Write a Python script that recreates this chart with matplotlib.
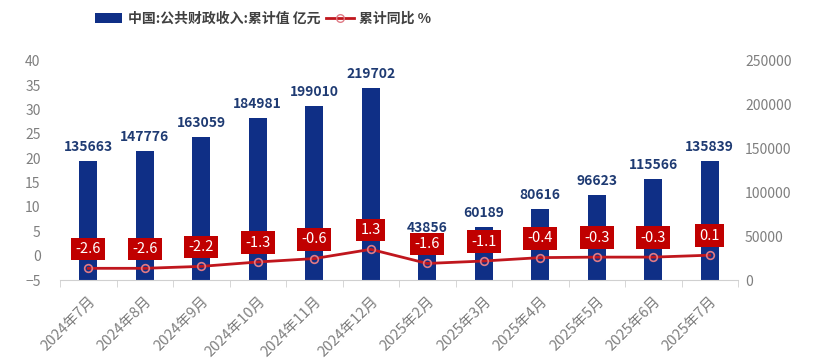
import matplotlib
matplotlib.use("Agg")
import matplotlib.pyplot as plt
from matplotlib.patches import Patch
from matplotlib.lines import Line2D
import numpy as np

plt.rcParams['font.family'] = ['Noto Sans CJK SC', 'DejaVu Sans']

categories = ["2024年7月", "2024年8月", "2024年9月", "2024年10月", "2024年11月", "2024年12月",
              "2025年2月", "2025年3月", "2025年4月", "2025年5月", "2025年6月", "2025年7月"]
revenue = [135663, 147776, 163059, 184981, 199010, 219702, 43856, 60189, 80616, 96623, 115566, 135839]
yoy = [-2.6, -2.6, -2.2, -1.3, -0.6, 1.3, -1.6, -1.1, -0.4, -0.3, -0.3, 0.1]

bar_name = "中国:公共财政收入:累计值 亿元"
line_name = "累计同比 %"

navy = "#0f2f86"
red = "#c0161d"
label_red = "#c00000"
gray = "#7f7f7f"

fig = plt.figure(figsize=(8.23, 3.6), dpi=100)
ax = fig.add_axes([60/823, 1-280/360, 678/823, 219/360])
ax2 = ax.twinx()

x = np.arange(len(categories))
ax2.bar(x, revenue, width=0.31, color=navy, zorder=2)
for xi, v in zip(x, revenue):
    ax2.annotate(f"{v}", (xi, v), xytext=(0, 5), textcoords="offset points",
                 ha="center", va="bottom", fontsize=10, fontweight="bold", color="#1f3b73")

ax.plot(x, yoy, color=red, lw=2, marker="o", ms=5.5, mfc="none", mec="#e07a85", mew=1.2, zorder=3)
for xi, v in zip(x, yoy):
    ax.annotate(f"{v:.1f}", (xi, v), xytext=(0, 14), textcoords="offset points",
                ha="center", va="center", fontsize=10.5, color="white",
                bbox=dict(boxstyle="square,pad=0.3", fc=label_red, ec="none"), zorder=5)

ax.set_zorder(ax2.get_zorder() + 1)
ax.patch.set_visible(False)

ax.set_xlim(-0.5, len(categories) - 0.5)
ax.set_ylim(-5, 40)
ax.set_yticks(np.arange(-5, 41, 5))
ax2.set_ylim(0, 250000)
ax2.set_yticks(np.arange(0, 250001, 50000))

for a in (ax, ax2):
    for s in ("top", "left", "right"):
        a.spines[s].set_visible(False)
    a.spines["bottom"].set_color("#d0d0d0")
ax2.spines["bottom"].set_visible(False)

ax.tick_params(axis="y", length=0, labelsize=10, labelcolor=gray, pad=14)
ax2.tick_params(axis="y", length=0, labelsize=10, labelcolor=gray, pad=5)
ax.set_xticks(x)
ax.set_xticklabels(categories, rotation=45, ha="right", rotation_mode="anchor",
                   fontsize=10.5, color=gray)
ax.tick_params(axis="x", length=0, pad=10)
ax.set_xticks(np.arange(-0.5, len(categories), 1), minor=True)
ax.tick_params(axis="x", which="minor", length=5, color="#d0d0d0")

handles = [Patch(facecolor=navy, edgecolor="none"),
           Line2D([0], [0], color=red, lw=2, marker="o", ms=5.5, mfc="none", mec="#e07a85")]
fig.legend(handles, [bar_name, line_name], loc="center left", bbox_to_anchor=(82/823, 1-19/360),
           ncol=2, frameon=False, handlelength=2.0, columnspacing=0.4, handletextpad=0.4,
           prop=dict(size=10, weight="bold"), labelcolor="#404040")

fig.savefig("out.png", dpi=100)
